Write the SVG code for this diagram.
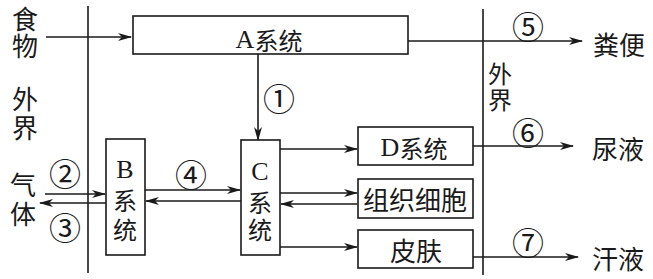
<svg xmlns="http://www.w3.org/2000/svg" width="653" height="279" viewBox="0 0 653 279">
<style>
.box{fill:#fff;stroke:#1a1a1a;stroke-width:1.6}
.ln{fill:none;stroke:#1a1a1a;stroke-width:1.6}
.t{font-family:"Noto Sans CJK SC","Liberation Serif",serif;font-size:24px;fill:#1a1a1a;text-anchor:middle;dominant-baseline:central}
.big{font-size:26px}
.lat{font-family:"Liberation Serif",serif;font-size:26px}
.num{font-family:"Noto Sans CJK SC",sans-serif;font-size:32px;fill:#1a1a1a;text-anchor:middle;dominant-baseline:central}
</style>
<defs>
<marker id="ah" markerUnits="userSpaceOnUse" markerWidth="14" markerHeight="10" refX="13" refY="4" orient="auto">
<path d="M0,0 L14,4 L0,8 L4,4 z" fill="#1a1a1a"/>
</marker>
</defs>
<rect width="653" height="279" fill="#fff"/>
<g id="boundaries">
<line class="ln" x1="88" y1="6" x2="88" y2="273"/>
<line class="ln" x1="483" y1="9" x2="483" y2="275"/>
</g>
<g id="connectors">
<line class="ln" x1="46" y1="37" x2="131" y2="37" marker-end="url(#ah)"/>
<line class="ln" x1="408" y1="41" x2="582" y2="41" marker-end="url(#ah)"/>
<line class="ln" x1="258" y1="54" x2="258" y2="140" marker-end="url(#ah)"/>
<line class="ln" x1="45" y1="194" x2="105" y2="194" marker-end="url(#ah)"/>
<line class="ln" x1="106" y1="203" x2="40" y2="203" marker-end="url(#ah)"/>
<line class="ln" x1="145" y1="190" x2="240" y2="190" marker-end="url(#ah)"/>
<line class="ln" x1="241" y1="201" x2="146" y2="201" marker-end="url(#ah)"/>
<line class="ln" x1="280" y1="149" x2="357" y2="149" marker-end="url(#ah)"/>
<line class="ln" x1="280" y1="193" x2="357" y2="193" marker-end="url(#ah)"/>
<line class="ln" x1="357" y1="204" x2="281" y2="204" marker-end="url(#ah)"/>
<line class="ln" x1="280" y1="247" x2="357" y2="247" marker-end="url(#ah)"/>
<line class="ln" x1="473" y1="146" x2="573" y2="146" marker-end="url(#ah)"/>
<line class="ln" x1="473" y1="257" x2="578" y2="257" marker-end="url(#ah)"/>
</g>
<g id="nodeA">
<rect class="box" x="133" y="16" width="275" height="38"/>
<text class="t" x="269" y="39"><tspan class="lat">A</tspan>系统</text>
</g>
<g id="nodeB">
<rect class="box" x="106" y="139" width="39" height="116"/>
<text class="t"><tspan class="lat" x="125" y="169">B</tspan><tspan x="125" y="199">系</tspan><tspan x="125" y="228">统</tspan></text>
</g>
<g id="nodeC">
<rect class="box" x="241" y="140" width="39" height="115"/>
<text class="t"><tspan class="lat" x="260" y="171">C</tspan><tspan x="260" y="201">系</tspan><tspan x="260" y="228">统</tspan></text>
</g>
<g id="nodeD">
<rect class="box" x="358" y="127" width="115" height="38"/>
<text class="t" x="414" y="147"><tspan class="lat">D</tspan>系统</text>
</g>
<g id="nodeTissue">
<rect class="box" x="358" y="179" width="115" height="39"/>
<text class="t big" x="415" y="198">组织细胞</text>
</g>
<g id="nodeSkin">
<rect class="box" x="358" y="230" width="115" height="38"/>
<text class="t big" x="416" y="249">皮肤</text>
</g>
<g id="labels">
<text class="t big"><tspan x="25" y="17">食</tspan><tspan x="25" y="44">物</tspan></text>
<text class="t big"><tspan x="25" y="97">外</tspan><tspan x="25" y="126">界</tspan></text>
<text class="t big"><tspan x="23" y="183">气</tspan><tspan x="23" y="212">体</tspan></text>
<text class="t"><tspan x="500" y="72">外</tspan><tspan x="500" y="98">界</tspan></text>
<text class="t big" x="619" y="43">粪便</text>
<text class="t big" x="618" y="147">尿液</text>
<text class="t big" x="618" y="257">汗液</text>
<text class="num" x="279" y="97">①</text>
<text class="num" x="65" y="172">②</text>
<text class="num" x="65" y="226">③</text>
<text class="num" x="191" y="173">④</text>
<text class="num" x="528" y="25">⑤</text>
<text class="num" x="528" y="131">⑥</text>
<text class="num" x="528" y="241">⑦</text>
</g>
</svg>
